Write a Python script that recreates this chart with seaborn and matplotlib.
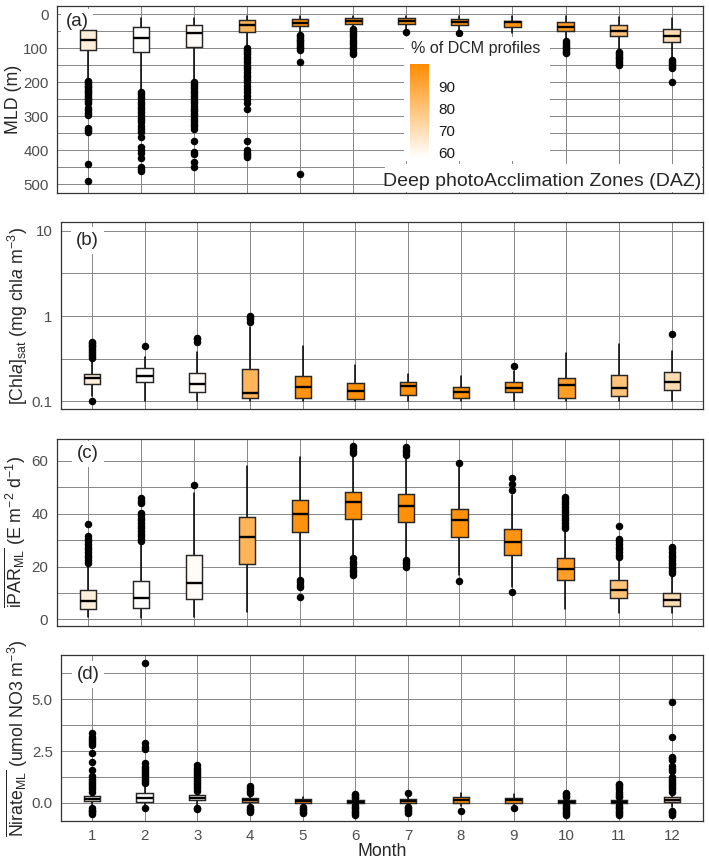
import matplotlib
matplotlib.use("Agg")
import matplotlib.pyplot as plt
import seaborn as sns
import numpy as np
from matplotlib.colors import LinearSegmentedColormap, Normalize
from matplotlib.cm import ScalarMappable
from matplotlib.patches import Rectangle
from matplotlib.ticker import FixedLocator, NullFormatter

# ---------------- data ----------------
months = list(range(1, 13))
month_labels = [str(m) for m in months]
dcm_pct = [63.5, 57.5, 58.8, 85.0, 97.5, 98.5, 98.5, 98.0, 97.0, 93.5, 79.5, 70.0]

# (a) MLD (m)
mld_q1 = [45, 37, 31, 17, 14, 12, 12, 14, 19, 22, 31, 44]
mld_med = [75, 69, 55, 31, 25, 20, 21, 22, 24, 36, 48, 64]
mld_q3 = [106, 112, 97, 51, 33, 28, 28.5, 31, 36, 49, 63, 81]
mld_lo = [12, 10, 10, 5, 4, 4, 5, 5, 6, 5, 9, 11]
mld_hi = [190, 225, 196, 96, 57, 40, 45, 50, 56, 78, 108, 130]
mld_fl = [
    [195, 200, 205, 210, 215, 220, 225, 230, 235, 240, 245, 250, 255, 262, 275, 282, 290, 295, 335, 340, 345, 440, 490],
    [228, 235, 242, 250, 258, 265, 272, 280, 288, 295, 305, 310, 318, 330, 338, 345, 362, 390, 398, 408, 422, 448, 455, 462],
    [200, 205, 210, 218, 225, 232, 240, 248, 255, 262, 270, 278, 285, 292, 300, 308, 315, 322, 330, 338, 372, 405, 410, 435, 450],
    [100, 105, 110, 118, 125, 132, 140, 148, 155, 162, 170, 178, 185, 192, 200, 210, 220, 230, 240, 250, 260, 280, 372, 400, 408, 415, 420],
    [60, 65, 70, 75, 80, 85, 90, 95, 100, 105, 141, 470],
    [42, 48, 55, 62, 68, 75, 82, 88, 95, 102, 110, 118],
    [51],
    [54],
    [],
    [80, 85, 90, 95, 100, 105, 110, 115],
    [110, 115, 120, 125, 130, 135, 140, 145, 149],
    [134, 140, 146, 152, 159, 198],
]

# (b) [Chla]sat
chl_q1 = [0.160, 0.166, 0.129, 0.110, 0.109, 0.107, 0.118, 0.110, 0.127, 0.110, 0.115, 0.136]
chl_med = [0.188, 0.199, 0.157, 0.125, 0.147, 0.131, 0.152, 0.128, 0.141, 0.154, 0.141, 0.169]
chl_q3 = [0.206, 0.247, 0.215, 0.240, 0.198, 0.164, 0.169, 0.147, 0.166, 0.186, 0.202, 0.218]
chl_lo = [0.115, 0.1, 0.1, 0.1, 0.1, 0.1, 0.1, 0.1, 0.1, 0.1, 0.1, 0.1]
chl_hi = [0.30, 0.33, 0.38, 0.75, 0.447, 0.265, 0.208, 0.198, 0.227, 0.364, 0.47, 0.39]
chl_fl = [
    [0.1, 0.32, 0.34, 0.36, 0.38, 0.40, 0.42, 0.44, 0.46, 0.48, 0.50],
    [0.447],
    [0.50, 0.53, 0.55],
    [0.86, 0.92, 0.97, 1.0],
    [], [], [], [],
    [0.26],
    [], [],
    [0.614],
]

# (c) iPAR_ML
par_q1 = [3.9, 4.4, 7.6, 20.8, 33.1, 37.9, 37.0, 31.1, 24.5, 14.9, 8.1, 5.0]
par_med = [6.9, 8.2, 13.9, 31.2, 40.0, 44.3, 42.9, 37.5, 29.4, 19.2, 11.2, 7.4]
par_q3 = [11.1, 14.5, 24.3, 38.9, 45.1, 48.1, 47.5, 41.8, 34.2, 23.3, 14.8, 10.1]
par_lo = [1.0, 0.5, 1.0, 2.9, 15.5, 23.5, 23.0, 16.8, 12.4, 3.8, 2.5, 2.3]
par_hi = [21.0, 29.0, 48.0, 58.2, 61.4, 62.5, 62.0, 57.8, 47.1, 33.0, 22.5, 17.0]
par_fl = [
    [21.5, 22.5, 23.5, 24.5, 25.5, 26.5, 27.5, 28.5, 29.5, 30.5, 31.5, 36.2],
    [29.5, 30.5, 31.5, 32.5, 33.5, 34.5, 35.5, 36.5, 37.5, 38.5, 39.5, 40.2, 44.0, 45.0, 46.0],
    [50.8],
    [],
    [8.6, 12.3, 13.2, 14.1, 14.9],
    [16.8, 17.8, 18.8, 19.8, 20.8, 21.8, 23.1, 62.9, 63.8, 64.8, 65.8],
    [19.9, 20.8, 21.7, 22.5, 62.2, 63.2, 64.2, 65.4],
    [14.5, 59.1],
    [10.3, 49.0, 51.4, 53.6],
    [34.5, 35.5, 36.5, 37.5, 38.5, 39.5, 40.5, 41.5, 42.5, 43.5, 44.5, 45.5, 46.5],
    [23.5, 24.5, 25.5, 26.5, 27.5, 28.5, 29.5, 30.5, 35.3],
    [17.5, 18.5, 19.5, 20.5, 21.5, 22.5, 23.5, 24.5, 25.5, 26.5, 27.5],
]

# (d) Nitrate_ML
no3_q1 = [0.08, 0.06, 0.13, 0.04, -0.01, -0.02, -0.01, 0.02, 0.01, -0.01, -0.01, 0.03]
no3_med = [0.21, 0.26, 0.26, 0.16, 0.08, 0.05, 0.09, 0.15, 0.12, 0.06, 0.06, 0.14]
no3_q3 = [0.34, 0.50, 0.40, 0.26, 0.17, 0.14, 0.20, 0.27, 0.23, 0.14, 0.14, 0.27]
no3_lo = [-0.2, -0.25, -0.15, -0.12, -0.12, -0.05, -0.1, -0.15, -0.15, -0.08, -0.08, -0.2]
no3_hi = [0.50, 0.90, 0.55, 0.45, 0.30, 0.20, 0.30, 0.47, 0.42, 0.25, 0.25, 0.50]
no3_fl = [
    [-0.53, -0.46, -0.40, -0.33, -0.26, 0.55, 0.65, 0.75, 0.85, 0.95, 1.05, 1.15, 1.28, 1.59, 1.99, 2.4, 2.8, 2.9, 3.0, 3.1, 3.2, 3.36],
    [-0.26, 0.95, 1.05, 1.15, 1.25, 1.35, 1.45, 1.55, 1.65, 1.75, 1.92, 2.6, 2.72, 2.91, 6.77],
    [-0.30, -0.22, 0.6, 0.7, 0.8, 0.9, 1.0, 1.1, 1.2, 1.3, 1.4, 1.5, 1.6, 1.7, 1.85],
    [-0.42, -0.35, -0.28, -0.2, 0.5, 0.6, 0.7, 0.8],
    [-0.5, -0.42, -0.35, -0.28, -0.2],
    [-0.58, -0.5, -0.42, -0.34, -0.26, -0.18, -0.1, 0.22, 0.3, 0.38, 0.45],
    [-0.47, -0.4, -0.33, -0.25, -0.18, 0.47],
    [-0.39],
    [-0.26],
    [-0.58, -0.5, -0.42, -0.34, -0.26, -0.18, -0.1, 0.27, 0.35, 0.42, 0.5],
    [-0.58, -0.5, -0.42, -0.34, -0.26, -0.18, -0.1, 0.27, 0.35, 0.45, 0.55, 0.65, 0.75, 0.85, 0.92],
    [-0.58, -0.5, -0.42, -0.37, 0.55, 0.65, 0.75, 0.85, 0.95, 1.05, 1.15, 1.27, 1.56, 1.65, 1.77, 2.09, 2.17, 2.24, 3.17, 4.89],
]

legend_ticks = [60, 70, 80, 90]

# ---------------- style ----------------
sns.set_theme(style="white")
plt.rcParams["font.family"] = ["Liberation Sans", "DejaVu Sans"]
plt.rcParams["mathtext.fontset"] = "custom"
plt.rcParams["mathtext.rm"] = "Liberation Sans"
plt.rcParams["mathtext.it"] = "Liberation Sans:italic"
plt.rcParams["mathtext.bf"] = "Liberation Sans:bold"

W, H = 709, 866
fig = plt.figure(figsize=(W / 100, H / 100), dpi=100)
fig.patch.set_facecolor("white")

def fx(x):
    return x / W

def fy(y):
    return 1 - y / H

def ax_at(l, t, r, b):
    ax = fig.add_axes([fx(l), fy(b), (r - l) / W, (b - t) / H])
    ax._px = (l, t, r, b)
    return ax

cmap = LinearSegmentedColormap.from_list("dcm", ["#FFFFFF", "#FF8C00"])
norm = Normalize(vmin=57.3, vmax=100)

GRID = "#7d7d7d"
TICKC = "#4D4D4D"
TICKSIZE = 10.8

def draw_panel(ax, q1, med, q3, lo, hi, fl):
    stats = []
    for i in range(len(months)):
        stats.append(dict(med=med[i], q1=q1[i], q3=q3[i], whislo=lo[i], whishi=hi[i],
                          fliers=fl[i], label=month_labels[i]))
    bp = ax.bxp(stats, positions=months, widths=0.31, patch_artist=True, showcaps=False,
                boxprops=dict(edgecolor="#262626", linewidth=1.05, zorder=2),
                whiskerprops=dict(color="black", linewidth=1.1, zorder=1.2),
                medianprops=dict(color="black", linewidth=1.7, zorder=2.1),
                flierprops=dict(marker="o", markerfacecolor="black", markeredgecolor="black",
                                markersize=4.4, linestyle="none", zorder=2))
    for patch, v in zip(bp["boxes"], dcm_pct):
        patch.set_facecolor(cmap(norm(v)))
    ax.set_xlim(0.415, 12.585)
    ax.set_xticks(months)
    ax.set_axisbelow(True)
    ax.grid(which="major", color=GRID, linewidth=0.65)
    ax.grid(which="minor", axis="y", color=GRID, linewidth=0.65)
    ax.tick_params(which="major", length=3, width=0.7, color="#333333", labelcolor=TICKC,
                   labelsize=TICKSIZE, pad=3)
    ax.tick_params(which="minor", length=0)
    for s in ax.spines.values():
        s.set_color("#333333")
        s.set_linewidth(0.9)
    ax.set_facecolor("white")

def panel_letter(ax, lab, x, y):
    l, t, r, b = ax._px
    ax.text((x - l) / (r - l), (b - y) / (b - t), lab, transform=ax.transAxes,
            ha="center", va="center", fontsize=13.5, zorder=1.5,
            bbox=dict(boxstyle="square,pad=0.25", facecolor="white", edgecolor="none"))

# (a)
axa = ax_at(57, 6, 702.7, 193)
draw_panel(axa, mld_q1, mld_med, mld_q3, mld_lo, mld_hi, mld_fl)
axa.set_ylim(525.6, -24.4)
axa.set_yticks([0, 100, 200, 300, 400, 500])
axa.set_yticks([50, 150, 250, 350, 450], minor=True)
axa.set_xticklabels([])
panel_letter(axa, "(a)", 77, 22)

# (b)
axb = ax_at(61, 222.3, 702.7, 408.7)
axb.set_yscale("log")
draw_panel(axb, chl_q1, chl_med, chl_q3, chl_lo, chl_hi, chl_fl)
axb.set_ylim(0.0813, 12.65)
axb.yaxis.set_major_locator(FixedLocator([0.1, 1, 10]))
axb.set_yticklabels(["0.1", "1", "10"])
axb.yaxis.set_minor_locator(FixedLocator([10 ** -0.5, 10 ** 0.5]))
axb.yaxis.set_minor_formatter(NullFormatter())
axb.set_xticklabels([])
panel_letter(axb, "(b)", 87.5, 240.5)

# (c)
axc = ax_at(56.7, 439, 702.7, 625.7)
draw_panel(axc, par_q1, par_med, par_q3, par_lo, par_hi, par_fl)
axc.set_ylim(-2.4, 68.3)
axc.set_yticks([0, 20, 40, 60])
axc.set_yticks([10, 30, 50], minor=True)
axc.set_xticklabels([])
panel_letter(axc, "(c)", 88, 454)

# (d)
axd = ax_at(61, 655.3, 702.7, 821)
draw_panel(axd, no3_q1, no3_med, no3_q3, no3_lo, no3_hi, no3_fl)
axd.set_ylim(-0.87, 7.12)
axd.set_yticks([0.0, 2.5, 5.0])
axd.set_yticklabels(["0.0", "2.5", "5.0"])
axd.set_yticks([1.25, 3.75, 6.25], minor=True)
axd.set_xticklabels(month_labels)
axd.tick_params(axis="x", pad=2.5)
panel_letter(axd, "(d)", 88, 674.5)

# axis titles
LAB = 12.8
fig.text(fx(13), fy(99.5), "MLD (m)", rotation=90, ha="center", va="center", fontsize=LAB)
fig.text(fx(18), fy(315.5), r"[Chl$\it{a}$]$_{\rm sat}$ (mg chl$\it{a}$ m$^{-3}$)",
         rotation=90, ha="center", va="center", fontsize=LAB)
fig.text(fx(15), fy(532), r"$\overline{\mathrm{iPAR}_{\mathrm{ML}}}$ (E m$^{-2}$ d$^{-1}$)",
         rotation=90, ha="center", va="center", fontsize=LAB)
fig.text(fx(17), fy(738), r"$\overline{\mathrm{Nirate}_{\mathrm{ML}}}$ (umol NO3 m$^{-3}$)",
         rotation=90, ha="center", va="center", fontsize=LAB)
fig.text(fx(381.8), fy(852), "Month", ha="center", va="center", fontsize=LAB)

# legend (inside panel a)
fig.add_artist(Rectangle((fx(404), fy(161)), (550 - 404) / W, (161 - 37) / H,
                         transform=fig.transFigure, facecolor="white", edgecolor="none", zorder=4))
fig.add_artist(Rectangle((fx(385), fy(192.4)), (702.2 - 385) / W, (192.4 - 164) / H,
                         transform=fig.transFigure, facecolor="white", edgecolor="none", zorder=4))
fig.text(fx(411), fy(49), "% of DCM profiles", ha="left", va="center", fontsize=11.5, zorder=6)
fig.text(fx(701), fy(181), "Deep photoAcclimation Zones (DAZ)", ha="right", va="center",
         fontsize=14, zorder=6)

cax = ax_at(410, 64, 429, 158)
cax.set_zorder(7)
sm = ScalarMappable(norm=norm, cmap=cmap)
cb = fig.colorbar(sm, cax=cax, orientation="vertical")
cb.outline.set_visible(False)
cb.set_ticks(legend_ticks)
cb.set_ticklabels([str(t) for t in legend_ticks])
cax.yaxis.set_ticks_position("both")
cax.tick_params(axis="y", direction="in", length=4, width=0.8, color="white",
                labelcolor="#1a1a1a", labelsize=11, pad=7, right=True, left=True,
                labelleft=False, labelright=True)

fig.savefig("out.png", dpi=100, facecolor="white")
